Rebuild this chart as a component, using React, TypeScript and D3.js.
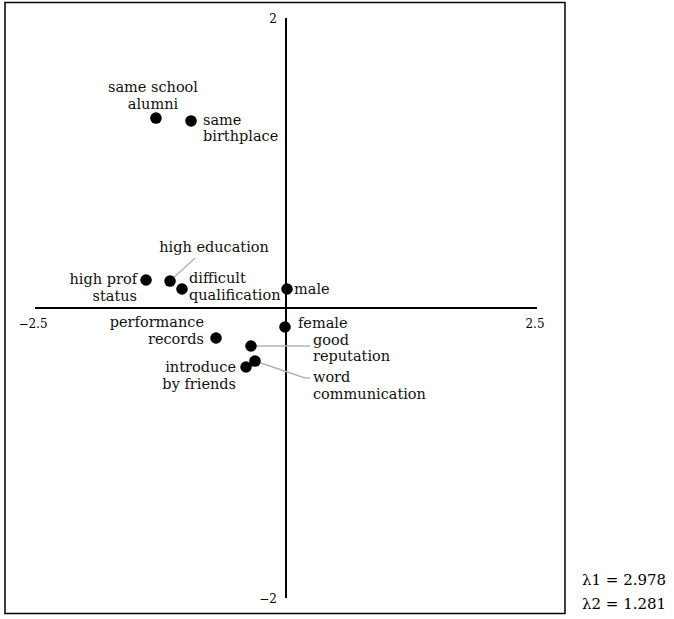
import React from "react";
import * as d3 from "d3";

// Correspondence-analysis coordinates (dimension 1, dimension 2)
const names = [
  "same school alumni",
  "same birthplace",
  "high prof status",
  "high education",
  "difficult qualification",
  "male",
  "female",
  "performance records",
  "good reputation",
  "word communication",
  "introduce by friends",
];
const dim1 = [-1.295, -0.946, -1.394, -1.155, -1.036, 0.01, -0.01, -0.697, -0.349, -0.309, -0.398];
const dim2 = [1.31, 1.29, 0.193, 0.186, 0.131, 0.131, -0.131, -0.207, -0.262, -0.366, -0.407];

const xTicks = [-2.5, 2.5];
const yTicks = [2, -2];
const eigenLabels = ["λ1 = 2.978", "λ2 = 1.281"];

// Label placement around each point: text lines, offset from the point, anchor, optional leader
type Lab = { lines: string[]; dx: number; dy: number; anchor: string; leader?: [number, number][] };
const labelLayout: Record<string, Lab> = {
  "same school alumni": { lines: ["same school", "alumni"], dx: -3, dy: -26, anchor: "middle" },
  "same birthplace": { lines: ["same", "birthplace"], dx: 12, dy: 4, anchor: "start" },
  "high prof status": { lines: ["high prof", "status"], dx: -9, dy: 4, anchor: "end" },
  "high education": { lines: ["high education"], dx: 44, dy: -29, anchor: "middle", leader: [[25, -23]] },
  "difficult qualification": { lines: ["difficult", "qualification"], dx: 7, dy: -6, anchor: "start" },
  male: { lines: ["male"], dx: 7, dy: 5, anchor: "start" },
  female: { lines: ["female"], dx: 13, dy: 1, anchor: "start" },
  "performance records": { lines: ["performance", "records"], dx: -12, dy: -11, anchor: "end" },
  "good reputation": { lines: ["good", "reputation"], dx: 62, dy: -1, anchor: "start", leader: [[59, 0]] },
  "word communication": {
    lines: ["word", "communication"],
    dx: 58,
    dy: 21,
    anchor: "start",
    leader: [[50, 17], [55, 17]],
  },
  "introduce by friends": { lines: ["introduce", "by friends"], dx: -10, dy: 5, anchor: "end" },
};

const W = 674;
const H = 619;
const font = "'DejaVu Serif', serif";

export default function App() {
  const x = d3.scaleLinear().domain([-2.5, 2.5]).range([35, 537]);
  const y = d3.scaleLinear().domain([-2, 2]).range([598, 18]);
  const x0 = x(0);
  const y0 = y(0);
  const lineGap = 16.5;

  const points = names.map((n, i) => ({ name: n, cx: x(dim1[i]), cy: y(dim2[i]) }));

  return (
    <svg
      width={W}
      height={H}
      style={{ position: "absolute", left: 0, top: 0, background: "#fff" }}
      fontFamily={font}
    >
      <rect x={5} y={2.5} width={560} height={611} fill="none" stroke="#000" strokeWidth={1.5} />

      {/* axes */}
      <line x1={x(-2.5)} x2={x(2.5)} y1={y0} y2={y0} stroke="#000" strokeWidth={2} />
      <line x1={x0} x2={x0} y1={y(2)} y2={y(-2)} stroke="#000" strokeWidth={2} />

      {xTicks.map((t) => (
        <text key={"xt" + t} x={x(t) - 2} y={y0 + 20} fontSize={12} textAnchor="middle" fill="#000">
          {t < 0 ? "\u2212" + Math.abs(t) : String(t)}
        </text>
      ))}
      {yTicks.map((t) => (
        <text key={"yt" + t} x={x0 - 9} y={y(t) + 5} fontSize={12} textAnchor="end" fill="#000">
          {t < 0 ? "\u2212" + Math.abs(t) : String(t)}
        </text>
      ))}

      {/* leader lines */}
      {points.map((p) => {
        const l = labelLayout[p.name];
        if (!l.leader) return null;
        const pts: [number, number][] = [[p.cx, p.cy], ...l.leader.map(([a, b]) => [p.cx + a, p.cy + b] as [number, number])];
        return (
          <path
            key={"ld" + p.name}
            d={d3.line()(pts) ?? ""}
            fill="none"
            stroke="#b3b3b3"
            strokeWidth={1.5}
          />
        );
      })}

      {/* points */}
      {points.map((p) => (
        <circle key={"c" + p.name} cx={p.cx} cy={p.cy} r={5.8} fill="#000" />
      ))}

      {/* labels */}
      {points.map((p) => {
        const l = labelLayout[p.name];
        return (
          <text
            key={"t" + p.name}
            x={p.cx + l.dx}
            y={p.cy + l.dy}
            fontSize={14.5}
            textAnchor={l.anchor}
            fill="#111"
          >
            {l.lines.map((s, i) => (
              <tspan key={i} x={p.cx + l.dx} dy={i === 0 ? 0 : lineGap}>
                {s}
              </tspan>
            ))}
          </text>
        );
      })}

      {eigenLabels.map((s, i) => (
        <text key={s} x={582} y={585 + i * 24} fontSize={15} fill="#000">
          {s}
        </text>
      ))}
    </svg>
  );
}
